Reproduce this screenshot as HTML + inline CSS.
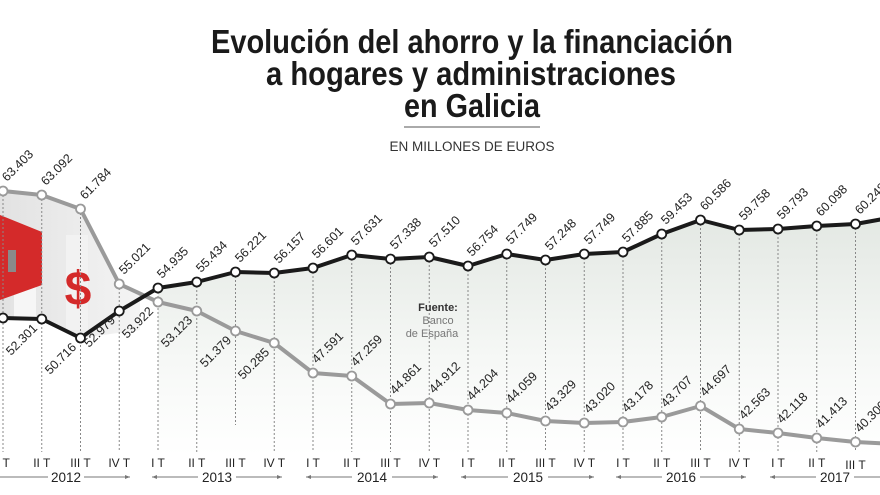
<!DOCTYPE html>
<html><head><meta charset="utf-8"><style>
html,body{margin:0;padding:0;background:#fff;}
svg{display:block;font-family:"Liberation Sans",sans-serif;}
.t{font-family:"Liberation Sans Narrow","Liberation Sans",sans-serif;font-weight:bold;font-size:33px;fill:#1a1a1a;}
.v{font-size:12.5px;fill:#222;}
.q{font-size:12px;fill:#222;}
</style></head><body>
<svg width="880" height="495" viewBox="0 0 880 495">
<defs>
<linearGradient id="g" x1="0" y1="0" x2="0" y2="1">
<stop offset="0" stop-color="#e3e8e3"/><stop offset="0.6" stop-color="#f6f8f6"/><stop offset="1" stop-color="#fff"/>
</linearGradient>
<linearGradient id="ill" x1="0" y1="0" x2="1" y2="0">
<stop offset="0" stop-color="#e2e2e2"/><stop offset="1" stop-color="#f4f4f4"/>
</linearGradient>
</defs>
<text class="t" x="211" y="53" textLength="522" lengthAdjust="spacingAndGlyphs">Evolución del ahorro y la financiación</text>
<text class="t" x="266" y="85" textLength="410" lengthAdjust="spacingAndGlyphs">a hogares y administraciones</text>
<text class="t" x="404" y="117" textLength="136" lengthAdjust="spacingAndGlyphs">en Galicia</text>
<line x1="404" y1="127" x2="540" y2="127" stroke="#555" stroke-width="1"/>
<text x="472" y="151" text-anchor="middle" font-size="13.5" fill="#333">EN MILLONES DE EUROS</text>

<polygon fill="url(#g)" points="158,288 196.75,282 235.5,272 274.25,273 313,268 351.75,255 390.5,259 429.25,257 468,266 506.75,254 545.5,260 584.25,254 623,252 661.75,234 700.5,220 739.25,230 778,229 816.75,226 855.5,224 894,217 894,455 158,455"/>
<polygon fill="url(#ill)" points="0,191 41.75,195 80.5,209 119.25,284 140,295 140,330 80.5,338 41.75,319 0,318"/>
<rect x="14" y="240" width="22" height="80" fill="#f6f6f6"/>
<rect x="66" y="235" width="22" height="95" fill="#f2f2f2"/>
<polygon points="0,215 42,232 42,285 0,300" fill="#d42a2a"/>
<rect x="8" y="250" width="8" height="22" fill="#8a8a8a"/>
<text x="78" y="305" text-anchor="middle" font-size="48" font-weight="bold" fill="#d42a2a">$</text>

<g stroke="#888" stroke-width="1" stroke-dasharray="2,2">
<line x1="3" y1="191" x2="3" y2="452"/><line x1="41.75" y1="195" x2="41.75" y2="452"/><line x1="80.5" y1="209" x2="80.5" y2="452"/><line x1="119.25" y1="284" x2="119.25" y2="452"/><line x1="158" y1="288" x2="158" y2="452"/><line x1="196.75" y1="282" x2="196.75" y2="452"/><line x1="235.5" y1="272" x2="235.5" y2="425"/><line x1="274.25" y1="273" x2="274.25" y2="452"/><line x1="313" y1="268" x2="313" y2="452"/><line x1="351.75" y1="255" x2="351.75" y2="452"/><line x1="390.5" y1="259" x2="390.5" y2="452"/><line x1="429.25" y1="257" x2="429.25" y2="452"/><line x1="468" y1="266" x2="468" y2="452"/><line x1="506.75" y1="254" x2="506.75" y2="452"/><line x1="545.5" y1="260" x2="545.5" y2="452"/><line x1="584.25" y1="254" x2="584.25" y2="452"/><line x1="623" y1="252" x2="623" y2="452"/><line x1="661.75" y1="234" x2="661.75" y2="452"/><line x1="700.5" y1="220" x2="700.5" y2="452"/><line x1="739.25" y1="230" x2="739.25" y2="452"/><line x1="778" y1="229" x2="778" y2="452"/><line x1="816.75" y1="226" x2="816.75" y2="452"/><line x1="855.5" y1="224" x2="855.5" y2="452"/>
</g>

<polyline fill="none" stroke="#9a9a9a" stroke-width="4" stroke-linejoin="round" points="3,191 41.75,195 80.5,209 119.25,284 158,302 196.75,311 235.5,331 274.25,343 313,373 351.75,376 390.5,404 429.25,403 468,410 506.75,413 545.5,421 584.25,423 623,422 661.75,417 700.5,406 739.25,429 778,433 816.75,438 855.5,442 894,444"/>
<polyline fill="none" stroke="#1a1a1a" stroke-width="4" stroke-linejoin="round" points="3,318 41.75,319 80.5,338 119.25,311 158,288 196.75,282 235.5,272 274.25,273 313,268 351.75,255 390.5,259 429.25,257 468,266 506.75,254 545.5,260 584.25,254 623,252 661.75,234 700.5,220 739.25,230 778,229 816.75,226 855.5,224 894,217"/>

<g fill="#fff" stroke="#9a9a9a" stroke-width="1.8">
<circle cx="3" cy="191" r="4.5"/><circle cx="41.75" cy="195" r="4.5"/><circle cx="80.5" cy="209" r="4.5"/><circle cx="119.25" cy="284" r="4.5"/><circle cx="158" cy="302" r="4.5"/><circle cx="196.75" cy="311" r="4.5"/><circle cx="235.5" cy="331" r="4.5"/><circle cx="274.25" cy="343" r="4.5"/><circle cx="313" cy="373" r="4.5"/><circle cx="351.75" cy="376" r="4.5"/><circle cx="390.5" cy="404" r="4.5"/><circle cx="429.25" cy="403" r="4.5"/><circle cx="468" cy="410" r="4.5"/><circle cx="506.75" cy="413" r="4.5"/><circle cx="545.5" cy="421" r="4.5"/><circle cx="584.25" cy="423" r="4.5"/><circle cx="623" cy="422" r="4.5"/><circle cx="661.75" cy="417" r="4.5"/><circle cx="700.5" cy="406" r="4.5"/><circle cx="739.25" cy="429" r="4.5"/><circle cx="778" cy="433" r="4.5"/><circle cx="816.75" cy="438" r="4.5"/><circle cx="855.5" cy="442" r="4.5"/>
</g>
<g fill="#fff" stroke="#1a1a1a" stroke-width="1.8">
<circle cx="3" cy="318" r="4.5"/><circle cx="41.75" cy="319" r="4.5"/><circle cx="80.5" cy="338" r="4.5"/><circle cx="119.25" cy="311" r="4.5"/><circle cx="158" cy="288" r="4.5"/><circle cx="196.75" cy="282" r="4.5"/><circle cx="235.5" cy="272" r="4.5"/><circle cx="274.25" cy="273" r="4.5"/><circle cx="313" cy="268" r="4.5"/><circle cx="351.75" cy="255" r="4.5"/><circle cx="390.5" cy="259" r="4.5"/><circle cx="429.25" cy="257" r="4.5"/><circle cx="468" cy="266" r="4.5"/><circle cx="506.75" cy="254" r="4.5"/><circle cx="545.5" cy="260" r="4.5"/><circle cx="584.25" cy="254" r="4.5"/><circle cx="623" cy="252" r="4.5"/><circle cx="661.75" cy="234" r="4.5"/><circle cx="700.5" cy="220" r="4.5"/><circle cx="739.25" cy="230" r="4.5"/><circle cx="778" cy="229" r="4.5"/><circle cx="816.75" cy="226" r="4.5"/><circle cx="855.5" cy="224" r="4.5"/>
</g>

<g class="v">
<text transform="translate(7,182) rotate(-45)">63.403</text>
<text transform="translate(46,186) rotate(-45)">63.092</text>
<text transform="translate(85,200) rotate(-45)">61.784</text>
<text transform="translate(124,275) rotate(-45)">55.021</text>
<text text-anchor="end" transform="translate(154,312) rotate(-45)">53.922</text>
<text text-anchor="end" transform="translate(193,321) rotate(-45)">53.123</text>
<text text-anchor="end" transform="translate(232,341) rotate(-45)">51.379</text>
<text text-anchor="end" transform="translate(270,353) rotate(-45)">50.285</text>
<text transform="translate(317,364) rotate(-45)">47.591</text>
<text transform="translate(356,367) rotate(-45)">47.259</text>
<text transform="translate(395,395) rotate(-45)">44.861</text>
<text transform="translate(434,394) rotate(-45)">44.912</text>
<text transform="translate(472,401) rotate(-45)">44.204</text>
<text transform="translate(511,404) rotate(-45)">44.059</text>
<text transform="translate(550,412) rotate(-45)">43.329</text>
<text transform="translate(589,414) rotate(-45)">43.020</text>
<text transform="translate(627,413) rotate(-45)">43.178</text>
<text transform="translate(666,408) rotate(-45)">43.707</text>
<text transform="translate(705,397) rotate(-45)">44.697</text>
<text transform="translate(744,420) rotate(-45)">42.563</text>
<text transform="translate(782,424) rotate(-45)">42.118</text>
<text transform="translate(821,429) rotate(-45)">41.413</text>
<text transform="translate(860,433) rotate(-45)">40.300</text>
</g>
<g class="v">
<text text-anchor="end" transform="translate(0,328) rotate(-45)">52.404</text>
<text text-anchor="end" transform="translate(38,329) rotate(-45)">52.301</text>
<text text-anchor="end" transform="translate(77,348) rotate(-45)">50.716</text>
<text text-anchor="end" transform="translate(116,321) rotate(-45)">52.979</text>
<text transform="translate(162,279) rotate(-45)">54.935</text>
<text transform="translate(201,273) rotate(-45)">55.434</text>
<text transform="translate(240,263) rotate(-45)">56.221</text>
<text transform="translate(279,264) rotate(-45)">56.157</text>
<text transform="translate(317,259) rotate(-45)">56.601</text>
<text transform="translate(356,246) rotate(-45)">57.631</text>
<text transform="translate(395,250) rotate(-45)">57.338</text>
<text transform="translate(434,248) rotate(-45)">57.510</text>
<text transform="translate(472,257) rotate(-45)">56.754</text>
<text transform="translate(511,245) rotate(-45)">57.749</text>
<text transform="translate(550,251) rotate(-45)">57.248</text>
<text transform="translate(589,245) rotate(-45)">57.749</text>
<text transform="translate(627,243) rotate(-45)">57.885</text>
<text transform="translate(666,225) rotate(-45)">59.453</text>
<text transform="translate(705,211) rotate(-45)">60.586</text>
<text transform="translate(744,221) rotate(-45)">59.758</text>
<text transform="translate(782,220) rotate(-45)">59.793</text>
<text transform="translate(821,217) rotate(-45)">60.098</text>
<text transform="translate(860,215) rotate(-45)">60.248</text>
</g>

<text x="438" y="311" text-anchor="middle" font-size="11" font-weight="bold" fill="#333">Fuente:</text>
<text x="438" y="324" text-anchor="middle" font-size="11" fill="#777">Banco</text>
<text x="432" y="337" text-anchor="middle" font-size="11" fill="#777">de España</text>

<g class="q" text-anchor="middle">
<text x="3" y="467">I T</text><text x="41.75" y="467">II T</text><text x="80.5" y="467">III T</text><text x="119.25" y="467">IV T</text>
<text x="158" y="467">I T</text><text x="196.75" y="467">II T</text><text x="235.5" y="467">III T</text><text x="274.25" y="467">IV T</text>
<text x="313" y="467">I T</text><text x="351.75" y="467">II T</text><text x="390.5" y="467">III T</text><text x="429.25" y="467">IV T</text>
<text x="468" y="467">I T</text><text x="506.75" y="467">II T</text><text x="545.5" y="467">III T</text><text x="584.25" y="467">IV T</text>
<text x="623" y="467">I T</text><text x="661.75" y="467">II T</text><text x="700.5" y="467">III T</text><text x="739.25" y="467">IV T</text>
<text x="778" y="467">I T</text><text x="816.75" y="467">II T</text><text x="855.5" y="469">III T</text>
</g>
<g stroke="#777" stroke-width="1" fill="none">
<line x1="0" y1="477" x2="48" y2="477"/><line x1="84" y1="477" x2="130" y2="477"/>
<line x1="152" y1="477" x2="198" y2="477"/><line x1="236" y1="477" x2="282" y2="477"/>
<line x1="306" y1="477" x2="352" y2="477"/><line x1="392" y1="477" x2="438" y2="477"/>
<line x1="461" y1="477" x2="508" y2="477"/><line x1="548" y1="477" x2="594" y2="477"/>
<line x1="616" y1="477" x2="662" y2="477"/><line x1="700" y1="477" x2="746" y2="477"/>
<line x1="770" y1="477" x2="816" y2="477"/><line x1="854" y1="477" x2="880" y2="477"/>
</g>
<g fill="#777">
<polygon points="130,477 125,475 125,479"/><polygon points="152,477 157,475 157,479"/><polygon points="282,477 277,475 277,479"/>
<polygon points="306,477 311,475 311,479"/><polygon points="438,477 433,475 433,479"/><polygon points="461,477 466,475 466,479"/>
<polygon points="594,477 589,475 589,479"/><polygon points="616,477 621,475 621,479"/><polygon points="746,477 741,475 741,479"/>
<polygon points="770,477 775,475 775,479"/>
</g>
<g font-size="13.5" fill="#222" text-anchor="middle">
<text x="66" y="482">2012</text><text x="217" y="482">2013</text><text x="372" y="482">2014</text>
<text x="528" y="482">2015</text><text x="681" y="482">2016</text><text x="835" y="482">2017</text>
</g>
</svg>
</body></html>
